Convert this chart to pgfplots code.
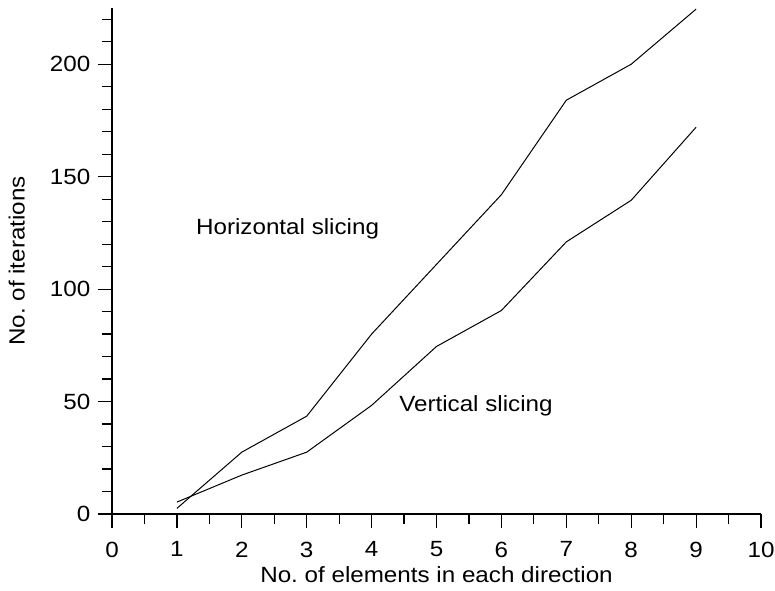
\documentclass[border=0pt]{standalone}
\usepackage{fontspec}
\setmainfont[FakeStretch=1.1]{Liberation Sans}
\usepackage{pgfplots}
\pgfplotsset{compat=1.18}
\begin{document}
\begin{tikzpicture}
\fontsize{11}{13}\selectfont
\begin{axis}[
  scale only axis,
  width=324.5pt, height=253pt,
  xmin=0, xmax=10, ymin=0, ymax=225,
  axis lines*=left,
  axis line style={line width=0.9pt},
  tick align=outside,
  xtick={0,1,...,10}, minor xtick={0.5,1.5,...,9.5},
  ytick={0,50,...,200}, minor ytick={10,20,30,40,60,70,80,90,110,120,130,140,160,170,180,190,210,220},
  major tick length=7pt, minor tick length=5pt,
  every tick/.style={black, line width=0.6pt},
  /pgf/number format/assume math mode=true,
  tick label style={font=\fontsize{11}{13}\selectfont},
  xticklabel style={yshift=-3pt},
  xlabel={No.\ of elements in each direction},
  ylabel={No.\ of iterations},
  label style={font=\fontsize{11}{13}\selectfont},
  xlabel style={yshift=3pt},
  ylabel style={yshift=5pt},
  clip=false,
]
\addplot[black, line width=0.5pt] coordinates {(1,2.5) (2,27.5) (3,43.5) (4,80) (5,111) (6,142) (7,184) (8,200) (9,224.5)};
\addplot[black, line width=0.5pt] coordinates {(1,5.3) (2,17.3) (3,27.5) (4,48.3) (5,74.5) (6,90.5) (7,121) (8,139.5) (9,172)};
\node[anchor=west, inner sep=0pt] at (axis cs:1.29,126.8) {Horizontal slicing};
\node[anchor=west, inner sep=0pt] at (axis cs:4.42,48.3) {Vertical slicing};
\end{axis}
\pgfresetboundingbox
\useasboundingbox (-56pt,-38pt) rectangle (331.5pt,257pt);
\end{tikzpicture}
\end{document}
